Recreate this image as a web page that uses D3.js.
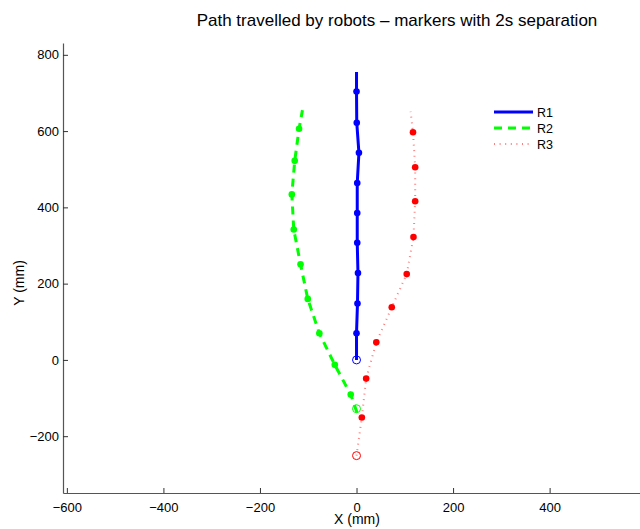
<!DOCTYPE html>
<html>
<head>
<meta charset="utf-8">
<script src="https://cdn.jsdelivr.net/npm/d3@7"></script>
<style>
  body { margin: 0; background: #fff; }
  text { font-family: "Liberation Sans", Arial, sans-serif; }
</style>
</head>
<body>
<div id="chart"></div>
<script>
// Path points (mm)
var r1X = [0, 0, 2, 3, 1.5, 1.5, 1.5, 5, 0.5, 0, 0];
var r1Y = [0, 70, 148, 228, 307, 385, 464, 543, 622, 704, 755];
var r2X = [1, -12, -45, -77, -101, -116, -130, -134, -128, -119, -112];
var r2Y = [-138, -91, -13, 70, 160, 251, 342, 434, 522, 606, 655];
var r3X = [0, 11, 20, 41, 73, 104, 118, 121.5, 121.5, 117, 112];
var r3Y = [-251, -151, -49, 46, 138, 225, 322, 416, 505, 597, 651];

// 2s markers (index into the path arrays) and start positions
var r1Marks = [1, 2, 3, 4, 5, 6, 7, 8, 9];
var r2Marks = [1, 2, 3, 4, 5, 6, 7, 8, 9];
var r3Marks = [1, 2, 3, 4, 5, 6, 7, 8, 9];
var startX = [0, 0, 0];
var startY = [0, -128, -251];

var names = ["R1", "R2", "R3"];
var colors = ["#0000ff", "#00ff00", "#ff0000"];

var xTicks = [-600, -400, -200, 0, 200, 400];
var yTicks = [-200, 0, 200, 400, 600, 800];

var w = 640, h = 529;
var margin = { top: 43, right: -11, bottom: 36, left: 63 };
var innerWidth = w - margin.left - margin.right;
var innerHeight = h - margin.top - margin.bottom;

var series = [
    { name: names[0], color: colors[0], xs: r1X, ys: r1Y, marks: r1Marks, width: 3, dash: null, opacity: 1 },
    { name: names[1], color: colors[1], xs: r2X, ys: r2Y, marks: r2Marks, width: 3, dash: "8,6", opacity: 1 },
    { name: names[2], color: colors[2], xs: r3X, ys: r3Y, marks: r3Marks, width: 2, dash: "1,4.6", opacity: 0.5 }
];

var xScale = d3.scaleLinear().domain([-608, 610]).range([0, innerWidth]);
var yScale = d3.scaleLinear().domain([-349, 831]).range([innerHeight, 0]);

var svg = d3.select("#chart").append("svg")
    .attr("width", w)
    .attr("height", h);

var g = svg.append("g")
    .attr("transform", `translate(${margin.left}, ${margin.top})`);

// Axes, MATLAB style: ticks pointing inward
var xAxis = d3.axisBottom(xScale).tickValues(xTicks).tickSizeInner(-5).tickSizeOuter(0).tickPadding(10);
var yAxis = d3.axisLeft(yScale).tickValues(yTicks).tickSizeInner(-5).tickSizeOuter(0).tickPadding(4);

var gx = g.append("g")
    .attr("transform", `translate(0, ${innerHeight})`)
    .call(xAxis);
var gy = g.append("g").call(yAxis);

[gx, gy].forEach(function (ax) {
    ax.select(".domain").attr("stroke", "#555").attr("stroke-width", 1.2);
    ax.selectAll(".tick line").attr("stroke", "#333");
    ax.selectAll(".tick text").attr("fill", "#000").style("font-size", "13px");
});

// Paths
var line = d3.line()
    .x(d => xScale(d[0]))
    .y(d => yScale(d[1]));

series.forEach(function (s, i) {
    var pts = s.xs.map((x, j) => [x, s.ys[j]]);
    g.append("path")
        .datum(pts)
        .attr("d", line)
        .attr("fill", "none")
        .attr("stroke", s.color)
        .attr("stroke-width", s.width)
        .attr("stroke-opacity", s.opacity)
        .attr("stroke-dasharray", s.dash);

    g.selectAll(".mark" + i)
        .data(s.marks.map(j => pts[j]))
        .enter().append("circle")
        .attr("cx", d => xScale(d[0]))
        .attr("cy", d => yScale(d[1]))
        .attr("r", 3.3)
        .attr("fill", s.color);

    g.append("circle")
        .attr("cx", xScale(startX[i]))
        .attr("cy", yScale(startY[i]))
        .attr("r", 4)
        .attr("fill", "none")
        .attr("stroke", s.color)
        .attr("stroke-width", 1);
});

// Legend
var legend = svg.append("g").attr("transform", "translate(494, 112)");
series.forEach(function (s, i) {
    legend.append("line")
        .attr("x1", 0).attr("x2", 39)
        .attr("y1", i * 16).attr("y2", i * 16)
        .attr("stroke", s.color)
        .attr("stroke-width", s.width)
        .attr("stroke-opacity", s.opacity)
        .attr("stroke-dasharray", s.dash);
    legend.append("text")
        .attr("x", 43)
        .attr("y", i * 16 + 4.5)
        .style("font-size", "12.5px")
        .text(s.name);
});

// Title and axis labels
svg.append("text")
    .attr("x", 397)
    .attr("y", 26)
    .attr("text-anchor", "middle")
    .style("font-size", "17px")
    .text("Path travelled by robots \u2013 markers with 2s separation");

svg.append("text")
    .attr("x", 357)
    .attr("y", 524)
    .attr("text-anchor", "middle")
    .style("font-size", "14px")
    .text("X (mm)");

svg.append("text")
    .attr("transform", "rotate(-90)")
    .attr("x", -283)
    .attr("y", 24)
    .attr("text-anchor", "middle")
    .style("font-size", "14px")
    .text("Y (mm)");
</script>
</body>
</html>
